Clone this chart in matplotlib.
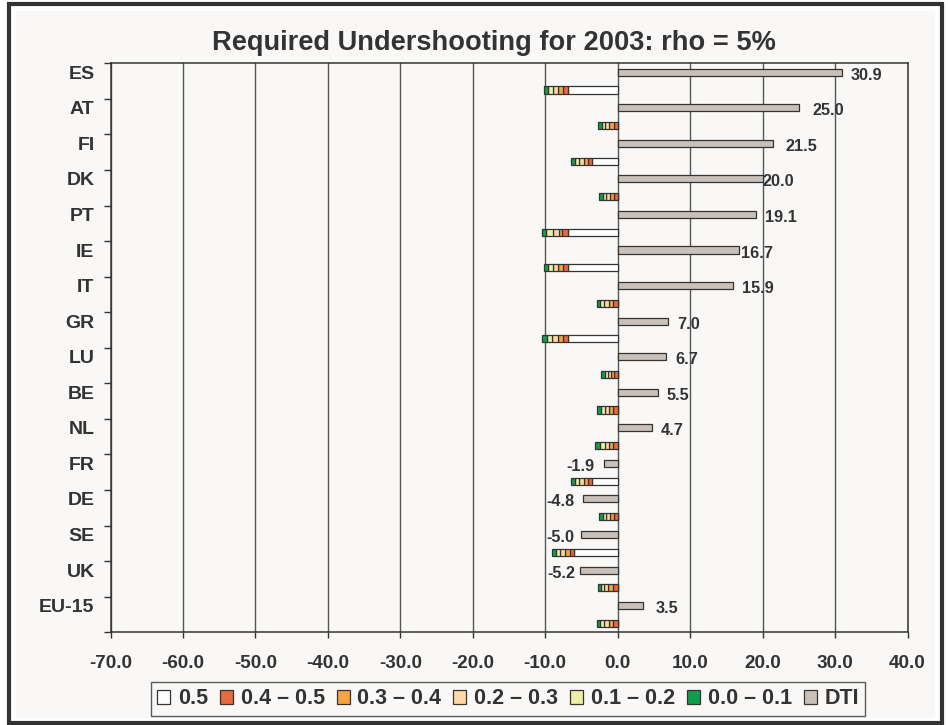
import numpy as np
import matplotlib
matplotlib.use("Agg")
import matplotlib.pyplot as plt
from matplotlib.patches import Rectangle

plt.rcParams["font.family"] = ["Liberation Sans", "DejaVu Sans"]
plt.rcParams["font.weight"] = "bold"

countries = ["ES", "AT", "FI", "DK", "PT", "IE", "IT", "GR", "LU", "BE",
             "NL", "FR", "DE", "SE", "UK", "EU-15"]
dti = [30.9, 25.0, 21.5, 20.0, 19.1, 16.7, 15.9, 7.0, 6.7, 5.5,
       4.7, -1.9, -4.8, -5.0, -5.2, 3.5]

# fan segments, stacked leftwards from zero (widths)
seg_05 = [6.9, 0.0, 3.5, 0.0, 6.9, 6.9, 0.0, 6.9, 0.0, 0.0,
          0.0, 3.5, 0.0, 5.98, 0.0, 0.0]
seg_45 = [0.60, 0.55, 0.55, 0.55, 0.74, 0.60, 0.60, 0.69, 0.51, 0.60,
          0.60, 0.55, 0.55, 0.60, 0.60, 0.60]
seg_34 = [0.69, 0.60, 0.60, 0.50, 0.50, 0.69, 0.60, 0.60, 0.46, 0.55,
          0.55, 0.60, 0.50, 0.69, 0.69, 0.60]
seg_23 = [0.78, 0.55, 0.64, 0.50, 0.83, 0.69, 0.69, 0.87, 0.41, 0.60,
          0.64, 0.64, 0.50, 0.69, 0.55, 0.64]
seg_12 = [0.60, 0.50, 0.60, 0.46, 0.92, 0.69, 0.55, 0.64, 0.37, 0.55,
          0.64, 0.60, 0.46, 0.55, 0.46, 0.60]
seg_01 = [0.55, 0.55, 0.55, 0.55, 0.55, 0.60, 0.46, 0.74, 0.55, 0.60,
          0.64, 0.55, 0.55, 0.60, 0.46, 0.46]

seg_names = ["0.5", "0.4 \u2013 0.5", "0.3 \u2013 0.4", "0.2 \u2013 0.3",
             "0.1 \u2013 0.2", "0.0 \u2013 0.1"]
seg_colors = ["#ffffff", "#e96a3c", "#f5a443", "#fcd9a4", "#eef0a6", "#0f9e4e"]

# small manual nudges (pixels) for the value labels, like the original
label_nudge = [0, 5, 3, -9, 0, -7, 0, 0, 0, 0, 0, 0, -1, -2, -4, 4]

txt = "#333333"
bg = "#f9f8f6"

fig = plt.figure(figsize=(9.48, 7.25), dpi=100, facecolor="white")
W, H = 948.0, 725.0
fig.patches.append(Rectangle((16 / W, 1 - 718 / H), 919 / W, 707 / H,
                             transform=fig.transFigure, facecolor=bg,
                             edgecolor="none", zorder=-3))
fig.patches.append(Rectangle((9 / W, 1 - 723 / H), 933 / W, 719 / H,
                             transform=fig.transFigure, facecolor="none",
                             edgecolor="#333333", linewidth=3, zorder=-2))

ax = fig.add_axes([110.5 / W, 1 - 632.3 / H, 797 / W, 569 / H])
ax.set_facecolor(bg)
ax.set_zorder(1)

n = len(countries)
idx = np.arange(n)
y_dti = idx + 0.25
y_fan = idx + 0.75
bh = 0.2

left = np.zeros(n)
segs = [seg_05, seg_45, seg_34, seg_23, seg_12, seg_01]
for vals, name, col in zip(segs, seg_names, seg_colors):
    w = -np.array(vals)
    ax.barh(y_fan, w, left=left, height=bh, color=col, edgecolor="#333333",
            linewidth=0.9, label=name, zorder=3)
    left = left + w

ax.barh(y_dti, dti, height=bh, color="#c9c0b9", edgecolor="#333333",
        linewidth=0.9, label="DTI", zorder=3)

for y, v, nd in zip(y_dti, dti, label_nudge):
    if v >= 0:
        ax.annotate(f"{v:.1f}", (v, y), xytext=(9 + nd, -3),
                    textcoords="offset pixels", ha="left", va="center",
                    fontsize=11.7, fontweight="bold", color=txt)
    else:
        ax.annotate(f"{v:.1f}", (v, y), xytext=(-9 - nd, -3),
                    textcoords="offset pixels", ha="right", va="center",
                    fontsize=11.7, fontweight="bold", color=txt)

ax.set_xlim(-70, 40)
ax.set_ylim(n, 0)
ax.set_xticks(np.arange(-70, 41, 10))
ax.set_xticklabels([f"{t:.1f}" for t in np.arange(-70, 41, 10)])
ax.set_yticks(np.arange(0, n + 1))
ax.set_yticklabels([])
ax.set_yticks(y_dti, minor=True)
ax.set_yticklabels(countries, minor=True)
ax.tick_params(axis="y", which="major", direction="out", length=5,
               width=1, color="#333333")
ax.tick_params(axis="y", which="minor", length=0, pad=11.5,
               labelsize=14, labelcolor=txt)
ax.tick_params(axis="x", direction="out", length=4.5, width=1,
               color="#333333", labelsize=13.6, labelcolor=txt, pad=12)
ax.xaxis.grid(True, color="#555555", linewidth=1, zorder=1)
ax.set_axisbelow(True)
for s in ax.spines.values():
    s.set_color("#333333")
    s.set_linewidth(1.1)

fig.text(494 / W, 1 - 43 / H, "Required Undershooting for 2003: rho = 5%",
         ha="center", va="center", fontsize=19.6, fontweight="bold", color=txt)

leg = fig.legend(loc="center", bbox_to_anchor=(508 / W, 1 - 699 / H), ncol=7,
                 frameon=True, fancybox=False, edgecolor="#333333",
                 facecolor=bg, fontsize=15.5, handlelength=0.6,
                 handleheight=0.6, handletextpad=0.36, columnspacing=0.56,
                 borderpad=0.3, borderaxespad=0)
leg.get_frame().set_linewidth(1)
for t in leg.get_texts():
    t.set_color(txt)
    t.set_fontweight("bold")

fig.savefig("out.png", dpi=100, facecolor="white")
